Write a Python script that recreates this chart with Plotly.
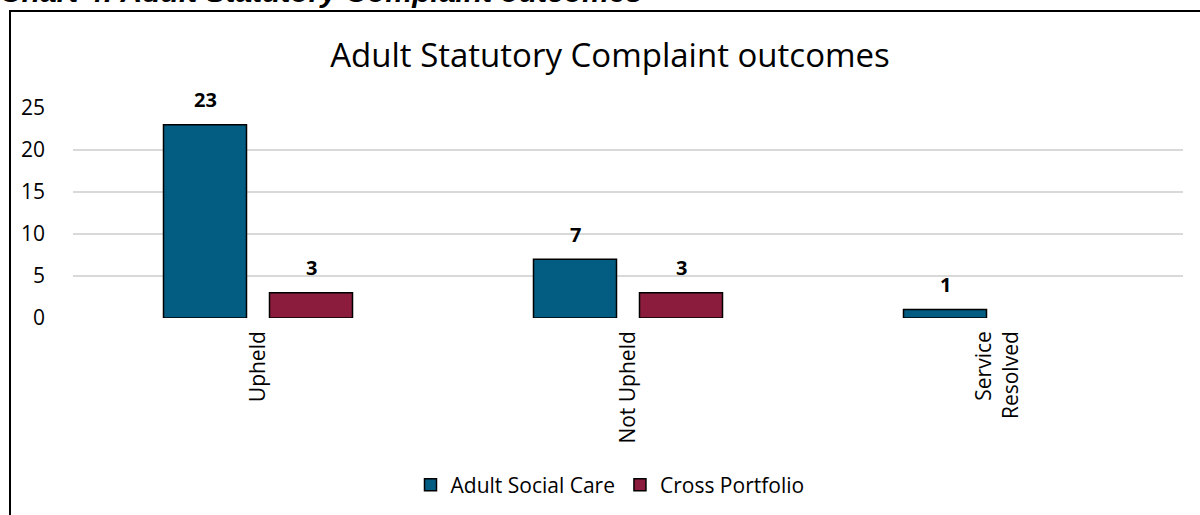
import plotly.graph_objects as go

categories = ["Upheld", "Not Upheld", "Service<br>Resolved"]
adult_social_care = [23, 7, 1]
cross_portfolio = [3, 3, None]
y_ticks = [0, 5, 10, 15, 20, 25]

series = [
    ("Adult Social Care", adult_social_care, "#035C82", -53),
    ("Cross Portfolio", cross_portfolio, "#8C1C3E", 53),
]

FONT = "Open Sans"
L, R, T, B = 73, 17, 108, 197
W, H = 1200, 515
PW, PH = W - L - R, H - T - B


def px_to_paper_x(px):
    return (px - L) / PW


def px_to_paper_y(py):
    return (H - B - py) / PH


fig = go.Figure()
for name, vals, color, _ in series:
    fig.add_trace(go.Bar(
        name=name, x=categories, y=vals,
        marker=dict(color=color, line=dict(color="black", width=1.5)),
    ))

annotations = []
for name, vals, color, xs in series:
    for c, v in zip(categories, vals):
        if v is None:
            continue
        annotations.append(dict(
            x=c, y=v, xref="x", yref="y", text=f"<b>{v}</b>", showarrow=False,
            xshift=xs, yshift=25, yanchor="middle",
            font=dict(family=FONT, size=20, color="black"),
        ))

annotations.append(dict(
    x=px_to_paper_x(-2), y=px_to_paper_y(10), xref="paper", yref="paper",
    xanchor="left", yanchor="bottom", showarrow=False,
    text="<b><i>Chart 4: Adult Statutory Complaint outcomes</i></b>",
    font=dict(family="Liberation Sans", size=30, color="black"),
))

fig.update_layout(
    width=W, height=H,
    margin=dict(l=L, r=R, t=T, b=B, autoexpand=False),
    paper_bgcolor="white", plot_bgcolor="white",
    barmode="group", bargap=0.427, bargroupgap=0.217,
    title=dict(text="Adult Statutory Complaint outcomes", x=px_to_paper_x(610), xref="paper",
               xanchor="center", y=1 - 55 / H, yanchor="middle",
               font=dict(family=FONT, size=33, color="black")),
    font=dict(family=FONT, color="black"),
    showlegend=True,
    legend=dict(orientation="h", x=px_to_paper_x(610), xanchor="center",
                y=px_to_paper_y(485), yanchor="middle",
                font=dict(family=FONT, size=21, color="black")),
    annotations=annotations,
    shapes=[dict(type="rect", xref="paper", yref="paper",
                 x0=px_to_paper_x(10), x1=px_to_paper_x(1210),
                 y0=px_to_paper_y(530), y1=px_to_paper_y(11),
                 line=dict(color="black", width=2), layer="above")],
    xaxis=dict(showgrid=False, showline=False, zeroline=False, tickangle=-90,
               tickfont=dict(family=FONT, size=21, color="black"), ticklabelstandoff=8),
    yaxis=dict(range=[0, 25], tickvals=y_ticks, showgrid=True, gridcolor="#D9D9D9", gridwidth=2,
               zeroline=False, showline=False,
               tickfont=dict(family=FONT, size=21, color="black"), ticklabelstandoff=27),
)

fig.write_html("out.html", config={"displayModeBar": False},
               post_script="document.body.style.margin='0px';document.body.style.overflow='hidden';")
